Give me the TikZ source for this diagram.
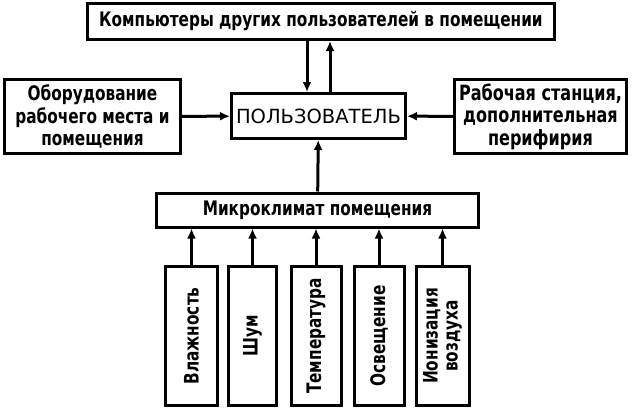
\documentclass[tikz,border=0pt]{standalone}
\usepackage{fontspec}
\setmainfont{DejaVu Sans Condensed}[FakeStretch=0.85]
\newfontfamily\widefont{DejaVu Sans}
\usepackage{tikz}
\usetikzlibrary{arrows.meta}

\begin{document}
\begin{tikzpicture}[
    x=1pt, y=-1pt,
    >={Latex[length=10pt,width=9pt]},
    line width=3pt,
    every node/.style={font=\bfseries\fontsize{20}{22.5}\selectfont},
    blk/.style={draw, inner sep=0pt, align=center},
    vblk/.style={draw, inner sep=0pt, minimum width=139pt, minimum height=50pt,
      rotate=90, align=center}
  ]
    \useasboundingbox (0,0) rectangle (635,410);
    \node[blk, minimum width=467pt, minimum height=36pt] (komp) at (321,21.5)
      {Компьютеры других пользователей в помещении};
    \node[blk, minimum width=176pt, minimum height=74pt] (oborud) at (92.5,116.5)
      {Оборудование\\рабочего места и\\помещения};
    \node[blk, minimum width=174pt, minimum height=45pt,
      font=\widefont\fontsize{19.5}{24}\selectfont] (polz) at (318.5,116)
      {ПОЛЬЗОВАТЕЛЬ};
    \node[blk, minimum width=172pt, minimum height=74pt,
      font=\bfseries\fontsize{21}{22.5}\selectfont] (rabst) at (540.5,116.5)
      {Рабочая станция,\\дополнительная\\перифирия};
    \node[blk, minimum width=322pt, minimum height=34pt] (micro) at (317.5,210)
      {Микроклимат помещения};
    % factors
    \node[vblk, minimum height=52pt] (vlazh) at (191.5,336) {Влажность};
    \node[vblk, minimum height=48pt] (shum) at (252.5,336) {Шум};
    \node[vblk, minimum height=50pt] (temp) at (316,336) {Температура};
    \node[vblk, minimum height=50pt] (osv) at (379,336) {Освещение};
    \node[vblk, minimum height=53pt, font=\bfseries\fontsize{20}{20}\selectfont]
      (ion) at (442.5,336) {Ионизация\\воздуха};
    \draw[->] (komp.south -| 307,0) -- (polz.north -| 307,0);
    \draw[->] (polz.north -| 330,0) -- (komp.south -| 330,0);
    \draw[->] (oborud) -- (polz);
    \draw[->] (rabst) -- (polz);
    \draw[->] (micro) -- (polz);
    \foreach \f in {vlazh,shum,temp,osv,ion}
      \draw[->] (\f.east) -- (\f.east |- micro.south);
  \end{tikzpicture}
\end{document}
